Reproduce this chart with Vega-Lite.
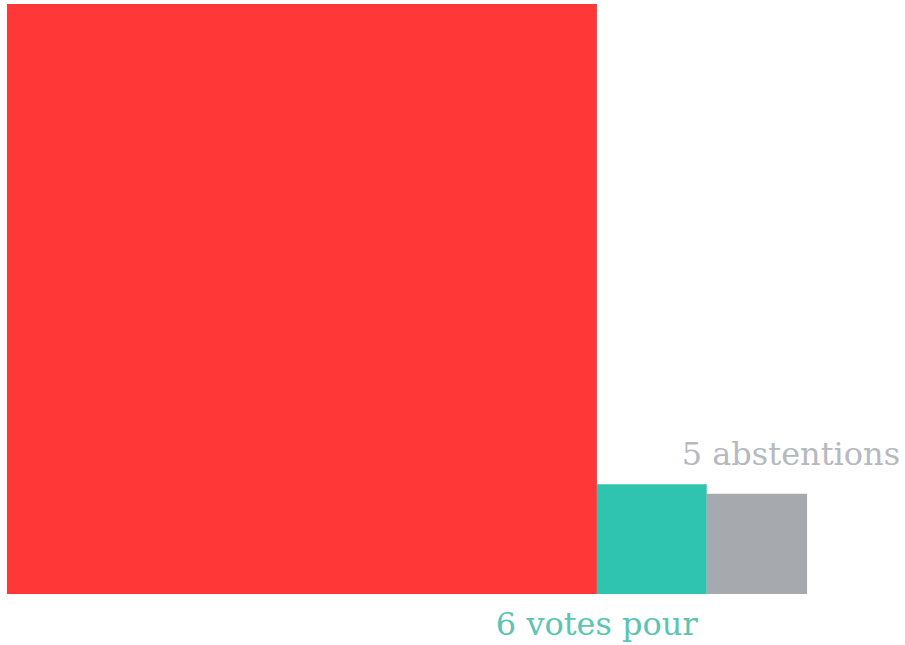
{
  "$schema": "https://vega.github.io/schema/vega-lite/v6.json",
  "autosize": "none",
  "padding": {"left": 7, "top": 0, "right": 0, "bottom": 51},
  "width": 898,
  "height": 594,
  "background": "white",
  "view": {"stroke": null},
  "data": {"values": [
    {"vote": "contre", "votes": 173, "label": ""},
    {"vote": "pour", "votes": 6, "label": "6 votes pour"},
    {"vote": "abstention", "votes": 5, "label": "5 abstentions"}
  ]},
  "transform": [
    {"calculate": "sqrt(datum.votes)", "as": "side"},
    {"window": [{"op": "sum", "field": "side", "as": "x1"}]},
    {"calculate": "datum.x1 - datum.side", "as": "x0"}
  ],
  "encoding": {
    "x": {"field": "x0", "type": "quantitative", "scale": {"domain": [0, 20.022], "nice": false, "zero": false}, "axis": null},
    "x2": {"field": "x1"},
    "y": {"field": "side", "type": "quantitative", "scale": {"domain": [0, 13.244], "nice": false}, "axis": null}
  },
  "layer": [
    {
      "mark": {"type": "rect"},
      "encoding": {
        "y2": {"datum": 0},
        "color": {"field": "vote", "type": "nominal", "legend": null,
          "scale": {"domain": ["contre", "pour", "abstention"], "range": ["#ff3737", "#2ec4b0", "#a6aaaf"]}}
      }
    },
    {
      "transform": [{"filter": "datum.vote === 'pour'"}],
      "mark": {"type": "text", "align": "right", "baseline": "alphabetic", "dy": 41, "dx": -9, "font": "DejaVu Serif", "fontSize": 32, "color": "#5cc4b3"},
      "encoding": {"x": {"field": "x1", "type": "quantitative"}, "x2": null, "y": {"datum": 0}, "text": {"field": "label"}}
    },
    {
      "transform": [{"filter": "datum.vote === 'abstention'"}],
      "mark": {"type": "text", "align": "right", "baseline": "alphabetic", "dy": -29, "dx": 93, "font": "DejaVu Serif", "fontSize": 32, "color": "#b6b9be"},
      "encoding": {"x": {"field": "x1", "type": "quantitative"}, "x2": null, "text": {"field": "label"}}
    }
  ]
}
